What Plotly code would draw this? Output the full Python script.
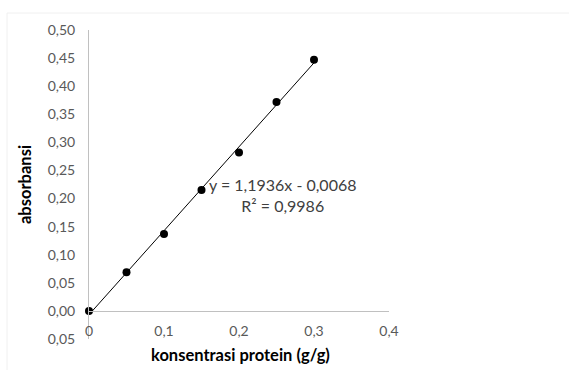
import numpy as np
import plotly.graph_objects as go

# Data
konsentrasi = [0, 0.05, 0.10, 0.15, 0.20, 0.25, 0.30]
absorbansi = [0.0, 0.069, 0.137, 0.215, 0.282, 0.372, 0.447]

x_tickvals = [0, 0.1, 0.2, 0.3, 0.4]
x_ticktext = ["0", "0,1", "0,2", "0,3", "0,4"]
y_tickvals = [-0.05, 0, 0.05, 0.10, 0.15, 0.20, 0.25, 0.30, 0.35, 0.40, 0.45, 0.50]
y_ticktext = ["0,05", "0,00", "0,05", "0,10", "0,15", "0,20", "0,25", "0,30", "0,35", "0,40", "0,45", "0,50"]

equation_text = "y = 1,1936x - 0,0068<br>R² = 0,9986"

# linear trend line fitted from the data
slope, intercept = np.polyfit(konsentrasi, absorbansi, 1)
trend_x = [min(konsentrasi), max(konsentrasi)]
trend_y = [slope * v + intercept for v in trend_x]

FONT = "Lato, Calibri, 'Open Sans', sans-serif"
TICK_COLOR = "#595959"
AXIS_COLOR = "#c0c0c0"

fig = go.Figure()
fig.add_trace(go.Scatter(x=trend_x, y=trend_y, mode="lines",
                         line=dict(color="black", width=1), hoverinfo="skip",
                         showlegend=False, cliponaxis=False))
fig.add_trace(go.Scatter(x=konsentrasi, y=absorbansi, mode="markers",
                         marker=dict(color="black", size=8), showlegend=False,
                         cliponaxis=False))

y_min, y_max = -0.05, 0.50
x_axis_pos = (0 - y_min) / (y_max - y_min)

fig.update_layout(
    width=570, height=381,
    margin=dict(l=89, r=181, t=30, b=42),
    paper_bgcolor="white", plot_bgcolor="white",
    font=dict(family=FONT, color=TICK_COLOR, size=14),
    xaxis=dict(range=[0, 0.4], tickvals=x_tickvals, ticktext=x_ticktext,
               showgrid=False, zeroline=False, showline=True,
               linecolor=AXIS_COLOR, linewidth=1,
               anchor="free", position=x_axis_pos,
               ticks="outside", ticklen=7, tickcolor="rgba(0,0,0,0)",
               tickfont=dict(family=FONT, color=TICK_COLOR, size=14)),
    yaxis=dict(range=[y_min, y_max], tickvals=y_tickvals, ticktext=y_ticktext,
               showgrid=False, zeroline=False, showline=True,
               linecolor=AXIS_COLOR, linewidth=1,
               ticks="outside", ticklen=10, tickcolor="rgba(0,0,0,0)",
               tickfont=dict(family=FONT, color=TICK_COLOR, size=14)),
    shapes=[
        dict(type="line", xref="paper", yref="paper", x0=-82/300, x1=1.6,
             y0=(381 - 13 - 42) / 309, y1=(381 - 13 - 42) / 309,
             line=dict(color="#f0f0f0", width=1)),
        dict(type="line", xref="paper", yref="paper", x0=-82/300, x1=-82/300,
             y0=-(370 - 339) / 309, y1=(381 - 13 - 42) / 309,
             line=dict(color="#f0f0f0", width=1)),
    ],
    annotations=[
        dict(text="konsentrasi protein (g/g)", xref="paper", yref="paper",
             x=(240 - 89) / 300, y=-(355 - 339) / 309, showarrow=False,
             font=dict(family=FONT, size=16.5, color="black", weight="bold"),
             xanchor="center", yanchor="middle"),
        dict(text="absorbansi", xref="paper", yref="paper",
             x=-(89 - 25) / 300, y=(339 - 185) / 309, showarrow=False,
             textangle=-90,
             font=dict(family=FONT, size=16.5, color="black", weight="bold"),
             xanchor="center", yanchor="middle"),
        dict(text=equation_text, xref="paper", yref="paper",
             x=(283 - 89) / 300, y=(339 - 195) / 309, showarrow=False,
             align="center",
             font=dict(family=FONT, size=16, color="#404040"),
             xanchor="center", yanchor="middle"),
    ],
)

fig.write_html("out.html", config={"displayModeBar": False},
               post_script="document.body.style.margin='0';document.body.style.padding='0';")
